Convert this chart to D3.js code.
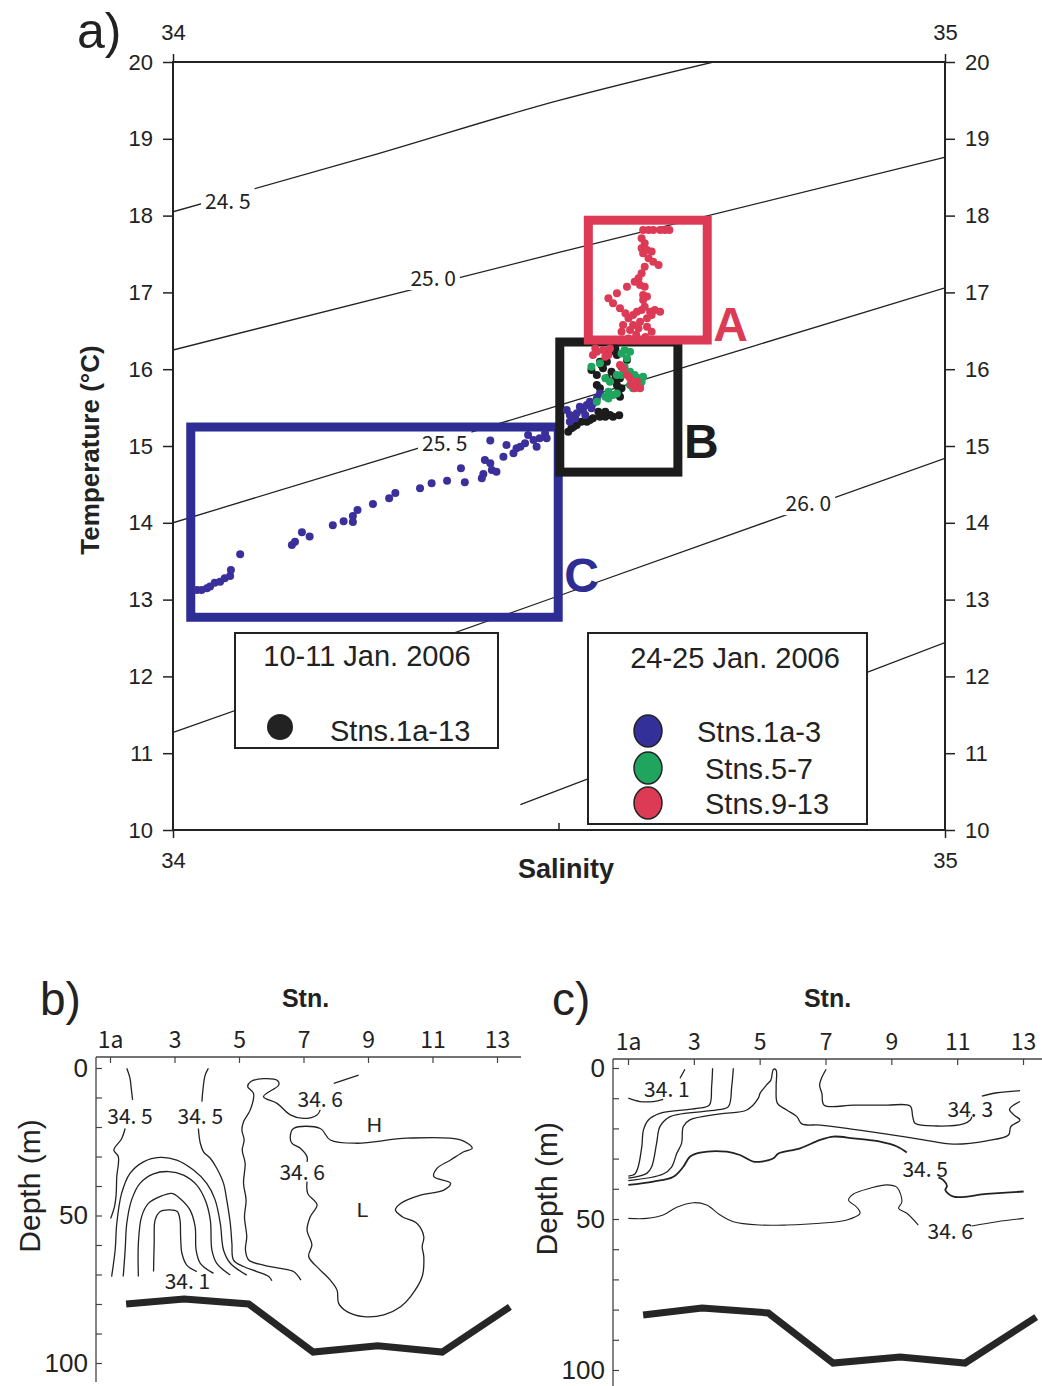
<!DOCTYPE html>
<html><head><meta charset="utf-8">
<script src="https://cdn.jsdelivr.net/npm/d3@7"></script>
<style>body{margin:0;background:#fff} svg{display:block}</style>
</head><body><svg id="c" width="1042" height="1386"></svg>
<script>
// ---------- Panel a data ----------
const salTicks = [34, 35];
const tempTicks = [10, 11, 12, 13, 14, 15, 16, 17, 18, 19, 20];
const isoLabels = ["24. 5", "25. 0", "25. 5", "26. 0"];
const isoLabelPos = [[34.071, 18.2], [34.337, 17.2], [34.352, 15.05], [34.823, 14.27]];
const iso245 = [[34, 18.05], [34.25, 18.76], [34.5, 19.5], [34.7, 20.0]];
const iso250 = [[34, 16.25], [34.5, 17.52], [35, 18.76]];
const iso255 = [[34, 14.0], [34.5, 15.53], [35, 17.06]];
const iso260 = [[34, 11.27], [34.5, 13.05], [35, 14.84]];
const iso265 = [[34.45, 10.33], [35, 12.44]];

const boxA = [34.538, 34.692, 16.38, 17.94];
const boxB = [34.501, 34.654, 14.66, 16.354];
const boxC = [34.023, 34.499, 12.77, 15.247];

const blackPts = [[34.512,15.186],[34.516,15.230],[34.523,15.273],[34.529,15.317],[34.536,15.317],[34.544,15.360],[34.553,15.382],[34.560,15.382],[34.566,15.403],[34.570,15.382],[34.551,15.447],[34.560,15.447],[34.549,15.794],[34.553,15.751],[34.549,15.924],[34.555,16.054],[34.553,16.098],[34.557,16.011],[34.562,15.881],[34.568,15.968],[34.573,15.881],[34.575,15.794],[34.579,15.881],[34.577,15.707],[34.581,15.751],[34.575,16.185],[34.573,16.271],[34.588,16.119],[34.581,16.033],[34.566,16.228],[34.562,16.098],[34.542,15.989],[34.579,15.642],[34.519,15.25],[34.540,15.34],[34.578,15.40]];
const bluePts = [[34.031,13.125],[34.037,13.125],[34.044,13.147],[34.048,13.169],[34.054,13.221],[34.061,13.234],[34.067,13.277],[34.074,13.307],[34.075,13.385],[34.087,13.589],[34.154,13.711],[34.158,13.754],[34.167,13.876],[34.177,13.820],[34.207,13.967],[34.221,14.019],[34.233,14.010],[34.233,14.089],[34.239,14.167],[34.259,14.245],[34.280,14.319],[34.288,14.388],[34.320,14.449],[34.335,14.514],[34.355,14.549],[34.373,14.709],[34.378,14.527],[34.400,14.579],[34.402,14.635],[34.404,14.818],[34.411,14.774],[34.413,14.688],[34.419,14.666],[34.411,15.070],[34.428,14.861],[34.432,15.013],[34.441,14.905],[34.445,14.970],[34.450,14.991],[34.456,15.035],[34.460,15.143],[34.467,15.078],[34.471,14.991],[34.475,15.100],[34.484,15.100],[34.482,15.165],[34.510,15.468],[34.514,15.403],[34.521,15.360],[34.527,15.512],[34.531,15.468],[34.536,15.534],[34.540,15.577],[34.544,15.555],[34.549,15.620],[34.553,15.685],[34.514,15.316],[34.523,15.425],[34.534,15.403],[34.542,15.490]];
const greenPts = [[34.542,16.033],[34.553,16.076],[34.560,15.881],[34.566,15.837],[34.564,15.707],[34.560,15.642],[34.564,15.620],[34.570,15.664],[34.575,15.685],[34.549,15.577],[34.581,16.206],[34.585,16.250],[34.592,16.228],[34.588,16.141],[34.585,16.033],[34.592,15.968],[34.598,15.924],[34.603,15.881],[34.607,15.837],[34.609,15.902],[34.605,15.794],[34.596,15.751],[34.592,15.794],[34.581,15.924],[34.575,15.924]];
const redPts = [[34.549,16.228],[34.557,16.250],[34.564,16.185],[34.566,16.271],[34.579,16.054],[34.583,16.011],[34.588,15.924],[34.592,15.881],[34.594,15.794],[34.598,15.751],[34.601,15.837],[34.605,15.751],[34.544,16.185],[34.547,16.271],[34.560,16.163],[34.609,17.813],[34.616,17.813],[34.622,17.813],[34.631,17.813],[34.637,17.813],[34.643,17.813],[34.607,17.704],[34.611,17.639],[34.607,17.574],[34.609,17.509],[34.614,17.552],[34.620,17.531],[34.616,17.444],[34.622,17.400],[34.629,17.357],[34.611,17.335],[34.607,17.248],[34.603,17.183],[34.605,17.097],[34.598,17.140],[34.588,17.075],[34.575,16.988],[34.611,17.075],[34.609,16.966],[34.609,16.901],[34.614,16.945],[34.564,16.923],[34.570,16.858],[34.579,16.793],[34.586,16.728],[34.590,16.663],[34.596,16.706],[34.601,16.749],[34.607,16.771],[34.611,16.814],[34.618,16.749],[34.624,16.771],[34.631,16.749],[34.614,16.663],[34.605,16.619],[34.596,16.576],[34.583,16.576],[34.581,16.489],[34.592,16.511],[34.603,16.532],[34.614,16.554],[34.620,16.489],[34.620,16.706],[34.600,16.45],[34.612,16.42],[34.590,16.40]];

const legend1Title = "10-11 Jan. 2006";
const legend1Items = ["Stns.1a-13"];
const legend2Title = "24-25 Jan. 2006";
const legend2Items = ["Stns.1a-3", "Stns.5-7", "Stns.9-13"];

// ---------- Panels b, c data ----------
const stationTicks = [1, 3, 5, 7, 9, 11, 13];
const stationLabels = ["1a", "3", "5", "7", "9", "11", "13"];
const depthTicks = [0, 10, 20, 30, 40, 50, 60, 70, 80, 90, 100];
const depthLabels = [0, 50, 100];
const bottomStnB = [1.5, 3.3, 5.3, 7.3, 9.3, 11.3, 13.4];
const bottomDepthB = [80, 78.3, 80, 96.3, 94.2, 96.3, 81];
const bottomStnC = [1.46, 3.25, 5.26, 7.23, 9.27, 11.24, 13.4];
const bottomDepthC = [81.8, 79.5, 81.1, 97.7, 95.7, 97.7, 82.5];

const bC345Ltop = [[1.52,0.1],[1.62,3.5],[1.66,7],[1.70,10.8]];
const bC345Lbot = [[1.47,20.5],[1.36,24.0],[1.12,27.8],[1.26,30.1],[1.21,36.8],[1.19,43.0],[1.14,47.0],[1.02,51.0]];
const bC344 = [[1.05,70.7],[1.16,61.7],[1.21,52.7],[1.36,42.5],[1.62,35.7],[2.04,31.8],[2.55,30.3],[3.07,31.2],[3.59,34.6],[4.00,39.1],[4.26,44.7],[4.42,52.7],[4.52,61.7],[4.73,66.2],[5.24,70.2]];
const bC343 = [[1.41,70.7],[1.47,61.7],[1.52,52.7],[1.67,44.7],[1.93,39.1],[2.35,35.9],[2.81,35.1],[3.28,36.3],[3.69,39.7],[3.95,44.7],[4.11,51.5],[4.16,61.7],[4.31,66.2],[4.73,70.2]];
const bC342 = [[1.88,70.7],[1.88,59.4],[1.98,50.4],[2.19,45.9],[2.55,43.6],[2.92,42.5],[3.17,44.2],[3.48,48.1],[3.64,53.8],[3.67,61.7],[3.80,66.2],[4.21,69.6]];
const bC341 = [[2.35,69.0],[2.37,59.4],[2.40,51.5],[2.55,48.7],[2.86,48.1],[3.09,48.7],[3.17,51.5],[3.19,57.2],[3.23,62.8],[3.38,66.8],[3.69,69.0]];
const bC345Rtop = [[4.05,0.1],[3.95,2.4],[3.88,7.5],[3.85,11.4]];
const bC345Rbot = [[3.74,20.5],[3.80,25.5],[3.90,28.4],[4.11,30.6],[4.31,34.0],[4.52,39.1],[4.62,44.7],[4.73,52.7],[4.78,59.4],[4.83,65.1],[5.14,67.3],[5.55,69.0],[5.92,70.7],[6.02,72.1]];
const bC346short = [[7.94,5.2],[8.71,2.4]];
const bC346long = [[7.52,14.2],[7.42,15.9],[7.00,17.1],[6.59,15.9],[6.18,12.0],[5.76,9.7],[6.23,5.8],[6.20,4.3],[5.76,3.6],[5.37,4.6],[5.27,6.3],[5.45,8.6],[5.35,14.2],[5.14,18.2],[5.09,21.0],[5.16,24.4],[5.10,27.8],[5.19,32.3],[5.14,39.1],[5.22,44.7],[5.17,50.4],[5.24,57.2],[5.20,61.7],[5.30,65.1],[5.76,66.8],[6.28,67.9],[6.69,69.0],[6.92,71.9]];
const bC346loop = [[7.11,38.5],[7.13,42.5],[7.42,46.4],[7.21,50.4],[7.11,54.9],[7.26,60.0],[7.16,63.9],[7.52,68.5],[7.83,71.9],[8.04,75.3],[8.09,79.8],[8.35,82.6],[8.87,84.3],[9.49,83.7],[10.01,80.9],[10.32,77.5],[10.68,70.7],[10.73,63.9],[10.68,60.6],[10.73,57.2],[10.52,52.7],[10.06,50.4],[9.85,48.1],[10.01,45.9],[10.63,43.1],[11.35,41.4],[11.56,39.1],[11.04,36.8],[11.14,34.0],[11.56,31.2],[11.97,28.4],[12.23,27.2],[11.87,24.4],[10.21,23.8],[8.66,25.5],[7.83,24.4],[7.52,20.5],[6.69,20.5],[6.59,23.3],[6.64,25.5],[6.90,27.2],[7.11,30.1],[7.11,31.8]];
const bLabels = [["34. 5",1.62,16.0],["34. 5",3.80,16.0],["34. 6",7.52,10.3],["34. 6",6.96,34.8],["H",9.2,19.3],["L",8.83,47.8],["34. 1",3.4,71.9]];

const cC341a = [[1.01,10.0],[1.36,11.1],[1.77,11.1],[2.07,10.4]];
const cC341b = [[2.58,3.4],[2.73,0.4]];
const cC342 = [[3.57,0.1],[3.54,6.2],[3.47,12.3],[3.09,13.4],[1.97,15.0],[1.62,17.2],[1.47,20.5],[1.42,26.0],[1.31,32.7],[1.21,35.1],[1.01,35.8]];
const cC343 = [[4.20,0.1],[4.15,6.2],[4.05,12.8],[3.70,13.9],[2.28,16.1],[1.97,19.4],[1.87,24.9],[1.72,32.7],[1.57,34.9],[1.01,36.5]];
const cC344 = [[1.01,37.3],[2.07,35.1],[2.33,32.7],[2.48,28.3],[2.63,24.9],[2.68,19.4],[2.88,17.2],[3.80,15.2],[4.61,13.9],[4.96,10.0],[5.01,8.4],[5.21,5.6],[5.34,4.0],[5.42,0.4],[5.50,0.7],[5.50,6.2],[5.54,11.7],[5.82,13.9],[6.13,16.1],[6.28,18.5],[6.84,18.9],[7.85,20.3],[8.86,21.9],[9.88,23.6],[10.89,25.2],[11.90,24.1],[12.56,22.2],[12.63,19.4],[12.91,17.2],[12.73,15.6],[12.59,13.7],[12.91,11.1]];
const cC343a = [[7.02,0.4],[6.89,3.1],[6.82,5.6],[6.89,8.4],[6.96,12.3],[7.85,12.3],[8.86,12.3],[9.57,12.6],[9.65,16.1],[9.72,18.3],[10.38,19.2],[11.19,18.5],[11.40,17.2],[11.45,16.1]];
const cC343b = [[11.75,9.3],[12.21,8.2],[12.91,7.5]];
const cC345a = [[1.01,38.7],[1.77,37.6],[2.38,36.0],[2.68,32.7],[2.88,29.4],[3.19,28.0],[4.00,27.7],[4.40,28.8],[4.81,31.0],[5.06,31.0],[5.42,29.9],[5.57,28.3],[6.23,26.6],[6.84,23.8],[7.24,22.7],[7.85,23.3],[8.66,24.4],[9.17,26.0],[9.47,28.0]];
const cC345b = [[10.43,36.2],[10.58,37.1],[10.69,39.1],[10.64,40.4],[10.89,42.6],[11.90,41.7],[13.02,40.9]];
const cC346a = [[1.01,49.8],[1.57,49.8],[2.07,48.7],[2.48,46.1],[2.99,44.6],[3.39,45.4],[3.80,48.7],[4.20,50.9],[5.01,52.0],[5.82,52.0],[6.84,51.4],[7.65,50.3],[8.05,48.1],[7.95,46.1],[7.70,43.7],[7.85,41.7],[8.36,39.8],[8.86,38.7],[9.17,39.5],[9.32,44.3],[9.22,46.5],[9.47,48.1],[9.82,52.0]];
const cC346b = [[11.45,52.3],[12.21,50.9],[13.02,49.8]];
const cLabels = [["34. 1",2.18,6.7],["34. 3",11.4,13.3],["34. 5",10.03,33.2],["34. 6",10.79,53.5]];

// ---------- Drawing ----------
const svg = d3.select('#c');
svg.append('rect').attr('width',1042).attr('height',1386).attr('fill','#fff');
const SANS = "'Liberation Sans', Arial, sans-serif";
const JP = "'Noto Sans CJK JP', 'DejaVu Sans', sans-serif";
const RED = '#dc3a55', BLUE = '#2e2d94', GREEN = '#1fa55e', BLACK = '#1c1c1c';

const x = d3.scaleLinear([34, 35], [173, 945]);
const y = d3.scaleLinear([10, 20], [830, 62]);
const gA = svg.append('g');

svg.append('clipPath').attr('id','plotA').append('rect')
  .attr('x', x(34)).attr('y', y(20)).attr('width', x(35)-x(34)).attr('height', y(10)-y(20));

const isoLine = d3.line().x(d => x(d[0])).y(d => y(d[1])).curve(d3.curveMonotoneX);
const isoG = gA.append('g').attr('clip-path','url(#plotA)');
[iso245, iso250, iso255, iso260, iso265].forEach(p => {
  isoG.append('path').attr('d', isoLine(p)).attr('fill','none').attr('stroke','#222').attr('stroke-width',1.3);
});
isoLabels.forEach((t, i) => {
  const lg = gA.append('g');
  const tx = lg.append('text').attr('x', x(isoLabelPos[i][0])).attr('y', y(isoLabelPos[i][1]))
    .attr('text-anchor','middle').attr('dominant-baseline','central')
    .attr('font-family', JP).attr('font-size', 21).attr('fill','#222')
    .text(t);
  const bb = tx.node().getBBox();
  lg.insert('rect','text').attr('x', bb.x - 4).attr('y', bb.y + 2).attr('width', bb.width + 8).attr('height', bb.height - 4).attr('fill','#fff');
});

// boxes
function drawBox(b, col) {
  gA.append('rect').attr('x', x(b[0])).attr('y', y(b[3]))
    .attr('width', x(b[1]) - x(b[0])).attr('height', y(b[2]) - y(b[3]))
    .attr('fill','none').attr('stroke', col).attr('stroke-width', 9);
}
drawBox(boxC, BLUE);
drawBox(boxB, BLACK);
drawBox(boxA, RED);

// points
function dots(arr, col) {
  gA.append('g').selectAll('circle').data(arr).join('circle')
    .attr('cx', d => x(d[0])).attr('cy', d => y(d[1])).attr('r', 4).attr('fill', col);
}
dots(blackPts, BLACK);
dots(bluePts, '#3b2f9c');
dots(greenPts, GREEN);
dots(redPts, RED);

// box letters
const letterStyle = s => s.attr('font-family', SANS).attr('font-weight','bold').attr('font-size', 48);
letterStyle(gA.append('text').attr('x', x(boxA[1]) + 6).attr('y', y(boxA[2]) + 1).attr('fill', RED).text('A'));
letterStyle(gA.append('text').attr('x', x(boxB[1]) + 6).attr('y', y(boxB[2]) - 14).attr('fill', BLACK).text('B'));
letterStyle(gA.append('text').attr('x', x(boxC[1]) + 6).attr('y', y(boxC[2]) - 25).attr('fill', BLUE).text('C'));

// legends
const LF = 29;
const lg1 = gA.append('g');
lg1.append('rect').attr('x',235).attr('y',633).attr('width',263).attr('height',115).attr('fill','#fff').attr('stroke','#222').attr('stroke-width',2);
lg1.append('text').attr('x',367).attr('y',666).attr('text-anchor','middle').attr('font-family',SANS).attr('font-size',LF).attr('fill','#222').text(legend1Title);
lg1.append('ellipse').attr('cx',280).attr('cy',727).attr('rx',13).attr('ry',13).attr('fill','#222');
lg1.append('text').attr('x',330).attr('y',741).attr('font-family',SANS).attr('font-size',LF).attr('fill','#222').text(legend1Items[0]);

const lg2 = gA.append('g');
lg2.append('rect').attr('x',588).attr('y',633).attr('width',279).attr('height',191).attr('fill','#fff').attr('stroke','#222').attr('stroke-width',2);
lg2.append('text').attr('x',735).attr('y',668).attr('text-anchor','middle').attr('font-family',SANS).attr('font-size',LF).attr('fill','#222').text(legend2Title);
const lg2Cols = ['#34309a', GREEN, RED];
const lg2Y = [731, 768, 803];
const lg2X = [697, 705, 705];
legend2Items.forEach((t, i) => {
  lg2.append('ellipse').attr('cx',648).attr('cy',lg2Y[i]).attr('rx',14).attr('ry',16).attr('fill',lg2Cols[i]).attr('stroke','#222').attr('stroke-width',1.5);
  lg2.append('text').attr('x',lg2X[i]).attr('y',lg2Y[i]+11).attr('font-family',SANS).attr('font-size',LF).attr('fill','#222').text(t);
});

// frame and axes
gA.append('rect').attr('x', x(34)).attr('y', y(20)).attr('width', x(35)-x(34)).attr('height', y(10)-y(20))
  .attr('fill','none').attr('stroke','#222').attr('stroke-width',2);
function styleAxis(g, size) {
  g.select('.domain').remove();
  g.selectAll('line').attr('stroke','#222').attr('stroke-width',1.5);
  g.selectAll('text').attr('font-family', SANS).attr('font-size', size).attr('fill','#222');
}
const fmt = d3.format('d');
gA.append('g').attr('transform',`translate(${x(34)},0)`).call(d3.axisLeft(y).tickValues(tempTicks).tickFormat(fmt).tickSize(10).tickPadding(10)).call(g => styleAxis(g, 22));
gA.append('g').attr('transform',`translate(${x(35)},0)`).call(d3.axisRight(y).tickValues(tempTicks).tickFormat(fmt).tickSize(10).tickPadding(10)).call(g => styleAxis(g, 22));
gA.append('g').attr('transform',`translate(0,${y(20)})`).call(d3.axisTop(x).tickValues(salTicks).tickFormat(fmt).tickSize(8).tickPadding(14)).call(g => styleAxis(g, 22));
gA.append('g').attr('transform',`translate(0,${y(10)})`).call(d3.axisBottom(x).tickValues(salTicks).tickFormat(fmt).tickSize(8).tickPadding(14)).call(g => styleAxis(g, 22));
gA.append('line').attr('x1', x(34.5)).attr('x2', x(34.5)).attr('y1', y(10)).attr('y2', y(10) - 7).attr('stroke','#222').attr('stroke-width',1.5);

gA.append('text').attr('x', 566).attr('y', 878).attr('text-anchor','middle').attr('font-family',SANS).attr('font-weight','bold').attr('font-size',27).attr('fill','#222').text('Salinity');
gA.append('text').attr('transform','translate(99,450) rotate(-90)').attr('text-anchor','middle').attr('font-family',SANS).attr('font-weight','bold').attr('font-size',26).attr('fill','#222').text('Temperature (°C)');
gA.append('text').attr('x', 77).attr('y', 48).attr('font-family',SANS).attr('font-size',50).attr('fill','#222').text('a)');

// ---------- Sections ----------
function section(o) {
  const g = svg.append('g');
  const xs = d3.scaleLinear([1, 13], o.xr);
  const ys = d3.scaleLinear([0, 100], o.yr);
  const ln = d3.line().x(d => xs(d[0])).y(d => ys(d[1])).curve(d3.curveCatmullRom.alpha(0.5));
  o.lines.forEach(l => {
    g.append('path').attr('d', ln(l.p)).attr('fill','none').attr('stroke','#222').attr('stroke-width', l.w || 1.3);
  });
  o.labels.forEach(l => {
    g.append('text').attr('x', xs(l[1])).attr('y', ys(l[2])).attr('text-anchor','middle').attr('dominant-baseline','central')
      .attr('font-family', l[0].length === 1 ? SANS : JP).attr('font-size', l[0].length === 1 ? 21 : 21).attr('fill','#222').text(l[0]);
  });
  const bl = d3.line().x(d => xs(d[0])).y(d => ys(d[1]));
  g.append('path').attr('d', bl(d3.zip(o.bs, o.bd))).attr('fill','none').attr('stroke','#262626').attr('stroke-width',7).attr('stroke-linejoin','miter');
  // axes
  const top = g.append('g').attr('transform',`translate(0,${o.axTop})`)
    .call(d3.axisTop(xs).tickValues(stationTicks).tickFormat((d, i) => stationLabels[i]).tickSize(-6).tickPadding(9));
  top.select('.domain').remove();
  top.selectAll('line').attr('stroke','#444').attr('stroke-width',1.2);
  top.selectAll('text').attr('font-family', JP).attr('font-size', 23).attr('fill','#222');
  g.append('line').attr('x1', o.axLeft).attr('x2', o.axRight).attr('y1', o.axTop).attr('y2', o.axTop).attr('stroke','#444').attr('stroke-width',1.3);
  const left = g.append('g').attr('transform',`translate(${o.axLeft},0)`)
    .call(d3.axisLeft(ys).tickValues(depthTicks).tickFormat(d => depthLabels.includes(d) ? d : '').tickSize(-6).tickPadding(8));
  left.select('.domain').remove();
  left.selectAll('line').attr('stroke','#444').attr('stroke-width',1.2);
  left.selectAll('text').attr('font-family', SANS).attr('font-size', 26).attr('fill','#222');
  g.append('line').attr('x1', o.axLeft).attr('x2', o.axLeft).attr('y1', o.axTop).attr('y2', o.axBottom).attr('stroke','#444').attr('stroke-width',1.3);
  g.append('text').attr('x', (xs(1) + xs(13)) / 2 + 2).attr('y', 1007).attr('text-anchor','middle').attr('font-family',SANS).attr('font-weight','bold').attr('font-size',25).attr('fill','#222').text('Stn.');
  g.append('text').attr('transform',`translate(${o.axLeft - 56},${ys(40)}) rotate(-90)`).attr('text-anchor','middle').attr('font-family',SANS).attr('font-size',30).attr('fill','#222').text('Depth (m)');
  g.append('text').attr('x', o.tagX).attr('y', 1015).attr('font-family',SANS).attr('font-size',46).attr('fill','#222').text(o.tag);
}

section({
  xr: [110, 497], yr: [1068, 1363], axTop: 1057, axLeft: 96, axRight: 521, axBottom: 1382,
  lines: [bC345Ltop, bC345Lbot, bC344, bC343, bC342, bC341, bC345Rtop, bC345Rbot, bC346short, bC346long, bC346loop].map(p => ({p})),
  labels: bLabels, bs: bottomStnB, bd: bottomDepthB, tag: 'b)', tagX: 40
});
section({
  xr: [628, 1023], yr: [1068, 1370], axTop: 1059, axLeft: 613, axRight: 1042, axBottom: 1386,
  lines: [cC341a, cC341b, cC342, cC343, cC344, cC343a, cC343b].map(p => ({p}))
    .concat([cC345a, cC345b].map(p => ({p, w: 1.8})))
    .concat([cC346a, cC346b].map(p => ({p, w: 1.1}))),
  labels: cLabels, bs: bottomStnC, bd: bottomDepthC, tag: 'c)', tagX: 552
});
</script></body></html>
